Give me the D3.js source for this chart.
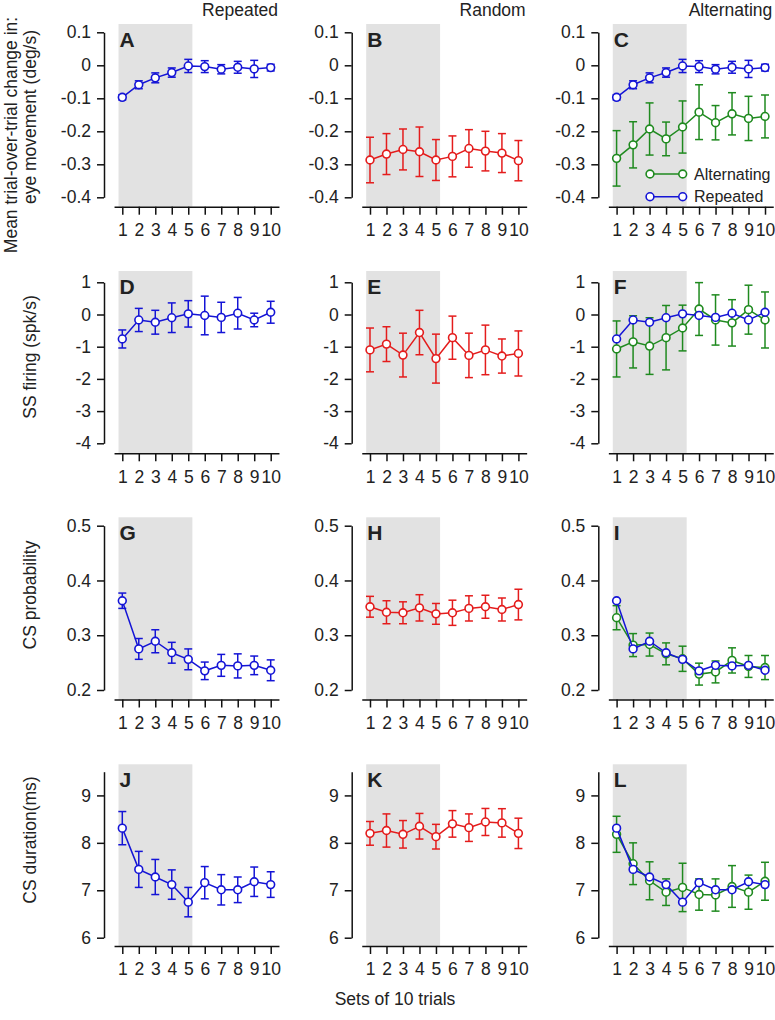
<!DOCTYPE html>
<html>
<head>
<meta charset="utf-8">
<script src="https://cdn.jsdelivr.net/npm/d3@7"></script>
<style>
  body { margin: 0; background: #fff; }
  svg text { font-family: "Liberation Sans", Arial, Helvetica, sans-serif; fill: #222; }
</style>
</head>
<body>
<div id="my_dataviz"></div>
<script>
// * DATA
const sets = [1, 2, 3, 4, 5, 6, 7, 8, 9, 10];
const columnTitles = ["Repeated", "Random", "Alternating"];
const panelLetters = ["A", "B", "C", "D", "E", "F", "G", "H", "I", "J", "K", "L"];
const rowTitles = ["eye movement (deg/s)", "SS firing (spk/s)", "CS probability", "CS duration(ms)"];
const yTicksEye = [0.1, 0, -0.1, -0.2, -0.3, -0.4];
const yTicksSS = [1, 0, -1, -2, -3, -4];
const yTicksProb = [0.5, 0.4, 0.3, 0.2];
const yTicksDur = [9, 8, 7, 6];
const legendLabels = ["Alternating", "Repeated"];

const eyeRep = [-0.097, -0.059, -0.038, -0.022, -0.002, -0.004, -0.012, -0.006, -0.011, -0.007];
const eyeRepErr = [0.008, 0.012, 0.015, 0.014, 0.02, 0.018, 0.014, 0.018, 0.026, 0.01];
const eyeRand = [-0.287, -0.269, -0.255, -0.262, -0.287, -0.276, -0.252, -0.26, -0.266, -0.289];
const eyeRandErr = [0.069, 0.062, 0.062, 0.075, 0.062, 0.062, 0.057, 0.06, 0.059, 0.061];
const eyeAlt = [-0.282, -0.241, -0.193, -0.223, -0.187, -0.142, -0.174, -0.147, -0.161, -0.155];
const eyeAltErr = [0.084, 0.07, 0.079, 0.051, 0.079, 0.083, 0.052, 0.064, 0.067, 0.065];

const ssRep = [-0.76, -0.17, -0.24, -0.1, 0.02, -0.03, -0.09, 0.04, -0.17, 0.07];
const ssRepErr = [0.28, 0.36, 0.37, 0.46, 0.41, 0.6, 0.47, 0.49, 0.21, 0.34];
const ssRand = [-1.1, -0.92, -1.26, -0.56, -1.37, -0.72, -1.27, -1.1, -1.29, -1.21];
const ssRandErr = [0.68, 0.54, 0.68, 0.69, 0.76, 0.67, 0.69, 0.77, 0.53, 0.7];
const ssAlt = [-1.07, -0.85, -0.98, -0.72, -0.42, 0.17, -0.17, -0.26, 0.15, -0.17];
const ssAltErr = [0.87, 0.81, 0.88, 1.0, 0.71, 0.82, 0.78, 0.72, 0.76, 0.87];

const probRep = [0.363, 0.275, 0.289, 0.268, 0.256, 0.235, 0.245, 0.244, 0.245, 0.236];
const probRepErr = [0.014, 0.019, 0.021, 0.019, 0.019, 0.016, 0.02, 0.022, 0.017, 0.019];
const probRand = [0.352, 0.342, 0.341, 0.35, 0.339, 0.341, 0.349, 0.352, 0.347, 0.356];
const probRandErr = [0.019, 0.021, 0.02, 0.024, 0.019, 0.023, 0.023, 0.021, 0.021, 0.028];
const probAlt = [0.332, 0.282, 0.283, 0.266, 0.257, 0.229, 0.233, 0.254, 0.243, 0.241];
const probAltErr = [0.022, 0.021, 0.021, 0.02, 0.023, 0.02, 0.02, 0.023, 0.02, 0.022];

const durRep = [8.31, 7.44, 7.28, 7.12, 6.75, 7.16, 7.01, 7.01, 7.18, 7.12];
const durRepErr = [0.35, 0.38, 0.37, 0.31, 0.31, 0.34, 0.32, 0.27, 0.31, 0.27];
const durRand = [8.2, 8.26, 8.18, 8.35, 8.13, 8.4, 8.32, 8.44, 8.42, 8.2];
const durRandErr = [0.25, 0.35, 0.29, 0.27, 0.26, 0.28, 0.29, 0.285, 0.3, 0.32];
const durAlt = [8.18, 7.56, 7.2, 6.96, 7.06, 6.91, 6.9, 7.08, 6.96, 7.19];
const durAltErr = [0.38, 0.44, 0.4, 0.28, 0.51, 0.33, 0.34, 0.44, 0.36, 0.4];

// * LAYOUT
const BLUE = "#1414d6", RED = "#e41c1c", GREEN = "#1f8a1f", GREY = "#e2e2e2";
const FS = 17.5;
const colAxisX = [104, 351.7, 598.3];
const rows = [
  {domain: [-0.4, 0.1], range: [197.3, 32.3], top: 24, base: 206.7, ticks: yTicksEye},
  {domain: [-4, 1], range: [443.3, 282.3], top: 271, base: 453.3, ticks: yTicksSS},
  {domain: [0.2, 0.5], range: [690, 525.7], top: 517.3, base: 699.5, ticks: yTicksProb},
  {domain: [6, 9.5], range: [937.7, 771.7], top: 764.3, base: 946, ticks: yTicksDur}
];
const shade = [0.77, 5.25];

// panel series: [row][col] -> list of series (drawn in order)
const panels = [
  [[{v: eyeRep, e: eyeRepErr, c: BLUE, err: true}],
   [{v: eyeRand, e: eyeRandErr, c: RED, err: true}],
   [{v: eyeAlt, e: eyeAltErr, c: GREEN, err: true}, {v: eyeRep, e: eyeRepErr, c: BLUE, err: true}]],
  [[{v: ssRep, e: ssRepErr, c: BLUE, err: true}],
   [{v: ssRand, e: ssRandErr, c: RED, err: true}],
   [{v: ssAlt, e: ssAltErr, c: GREEN, err: true}, {v: ssRep, e: ssRepErr, c: BLUE, err: false}]],
  [[{v: probRep, e: probRepErr, c: BLUE, err: true}],
   [{v: probRand, e: probRandErr, c: RED, err: true}],
   [{v: probAlt, e: probAltErr, c: GREEN, err: true}, {v: probRep, e: probRepErr, c: BLUE, err: false}]],
  [[{v: durRep, e: durRepErr, c: BLUE, err: true}],
   [{v: durRand, e: durRandErr, c: RED, err: true}],
   [{v: durAlt, e: durAltErr, c: GREEN, err: true}, {v: durRep, e: durRepErr, c: BLUE, err: false}]]
];

var svg = d3.select("#my_dataviz")
  .append("svg")
  .attr("width", 775)
  .attr("height", 1020);

const fmt = d => String(Math.round(d * 10) / 10);

rows.forEach((row, ri) => {
  colAxisX.forEach((ax, ci) => {
    var g = svg.append("g");
    var x = d3.scaleLinear().domain([0.5, 10.5]).range([ax + 10.05, ax + 174.95]);
    var y = d3.scaleLinear().domain(row.domain).range(row.range);

    // grey shaded block (first 5 sets)
    g.append("rect")
      .attr("x", x(shade[0]))
      .attr("y", row.top)
      .attr("width", x(shade[1]) - x(shade[0]))
      .attr("height", row.base - row.top)
      .attr("fill", GREY);

    // axes
    var yAxis = d3.axisLeft(y).tickValues(row.ticks).tickFormat(fmt)
      .tickSizeInner(7).tickSizeOuter(0).tickPadding(6);
    var ya = g.append("g").attr("transform", `translate(${ax},0)`).call(yAxis);
    var xAxis = d3.axisBottom(x).tickValues(sets).tickFormat(d3.format("d"))
      .tickSizeInner(8).tickSizeOuter(0).tickPadding(9);
    var xa = g.append("g").attr("transform", `translate(0,${row.base})`).call(xAxis);
    [ya, xa].forEach(a => {
      a.selectAll("path, line").attr("stroke", "#111").attr("stroke-width", 1.5);
      a.selectAll("text").attr("font-size", FS).attr("fill", "#222");
    });

    // panel letter
    g.append("text")
      .attr("x", x(shade[0]) + 1)
      .attr("y", row.top + 23)
      .attr("font-size", 21)
      .attr("font-weight", "bold")
      .text(panelLetters[ri * 3 + ci]);

    var line = d3.line().x((d, i) => x(sets[i])).y(d => y(d));

    panels[ri][ci].forEach(s => {
      if (s.err) {
        var eb = g.append("g").attr("stroke", s.c).attr("stroke-width", 1.5);
        s.v.forEach((v, i) => {
          var xi = x(sets[i]), lo = y(v - s.e[i]), hi = y(v + s.e[i]);
          eb.append("line").attr("x1", xi).attr("x2", xi).attr("y1", lo).attr("y2", hi);
          eb.append("line").attr("x1", xi - 4).attr("x2", xi + 4).attr("y1", lo).attr("y2", lo);
          eb.append("line").attr("x1", xi - 4).attr("x2", xi + 4).attr("y1", hi).attr("y2", hi);
        });
      }
      g.append("path").datum(s.v)
        .attr("d", line)
        .attr("fill", "none")
        .attr("stroke", s.c)
        .attr("stroke-width", 1.5);
      g.selectAll(null).data(s.v).enter().append("circle")
        .attr("cx", (d, i) => x(sets[i]))
        .attr("cy", d => y(d))
        .attr("r", 3.9)
        .attr("fill", "#fff")
        .attr("stroke", s.c)
        .attr("stroke-width", 1.6);
    });

    // legend in panel C
    if (ri === 0 && ci === 2) {
      [[GREEN, 174], [BLUE, 196.7]].forEach((lg, k) => {
        var lgG = g.append("g");
        lgG.append("line").attr("x1", 650).attr("x2", 682.7).attr("y1", lg[1]).attr("y2", lg[1])
          .attr("stroke", lg[0]).attr("stroke-width", 1.5);
        [650, 682.7].forEach(cx => lgG.append("circle").attr("cx", cx).attr("cy", lg[1]).attr("r", 3.9)
          .attr("fill", "#fff").attr("stroke", lg[0]).attr("stroke-width", 1.6));
        lgG.append("text").attr("x", 694).attr("y", lg[1]).attr("dy", "0.36em")
          .attr("font-size", 16).text(legendLabels[k]);
      });
    }

    // column titles
    if (ri === 0) {
      g.append("text")
        .attr("x", ax + 174)
        .attr("y", 16)
        .attr("text-anchor", "end")
        .attr("font-size", FS)
        .text(columnTitles[ci]);
    }
  });
});

// row titles (rotated)
svg.append("text")
  .attr("transform", "translate(17,135) rotate(-90)")
  .attr("text-anchor", "middle")
  .attr("font-size", FS)
  .text("Mean trial-over-trial change in:");
const rowTitleY = [117, 357, 595, 840];
rowTitles.forEach((t, i) => {
  svg.append("text")
    .attr("transform", `translate(36,${rowTitleY[i]}) rotate(-90)`)
    .attr("text-anchor", "middle")
    .attr("font-size", FS)
    .text(t);
});

svg.append("text")
  .attr("x", 395)
  .attr("y", 1005)
  .attr("text-anchor", "middle")
  .attr("font-size", FS)
  .text("Sets of 10 trials");
</script>
</body>
</html>
